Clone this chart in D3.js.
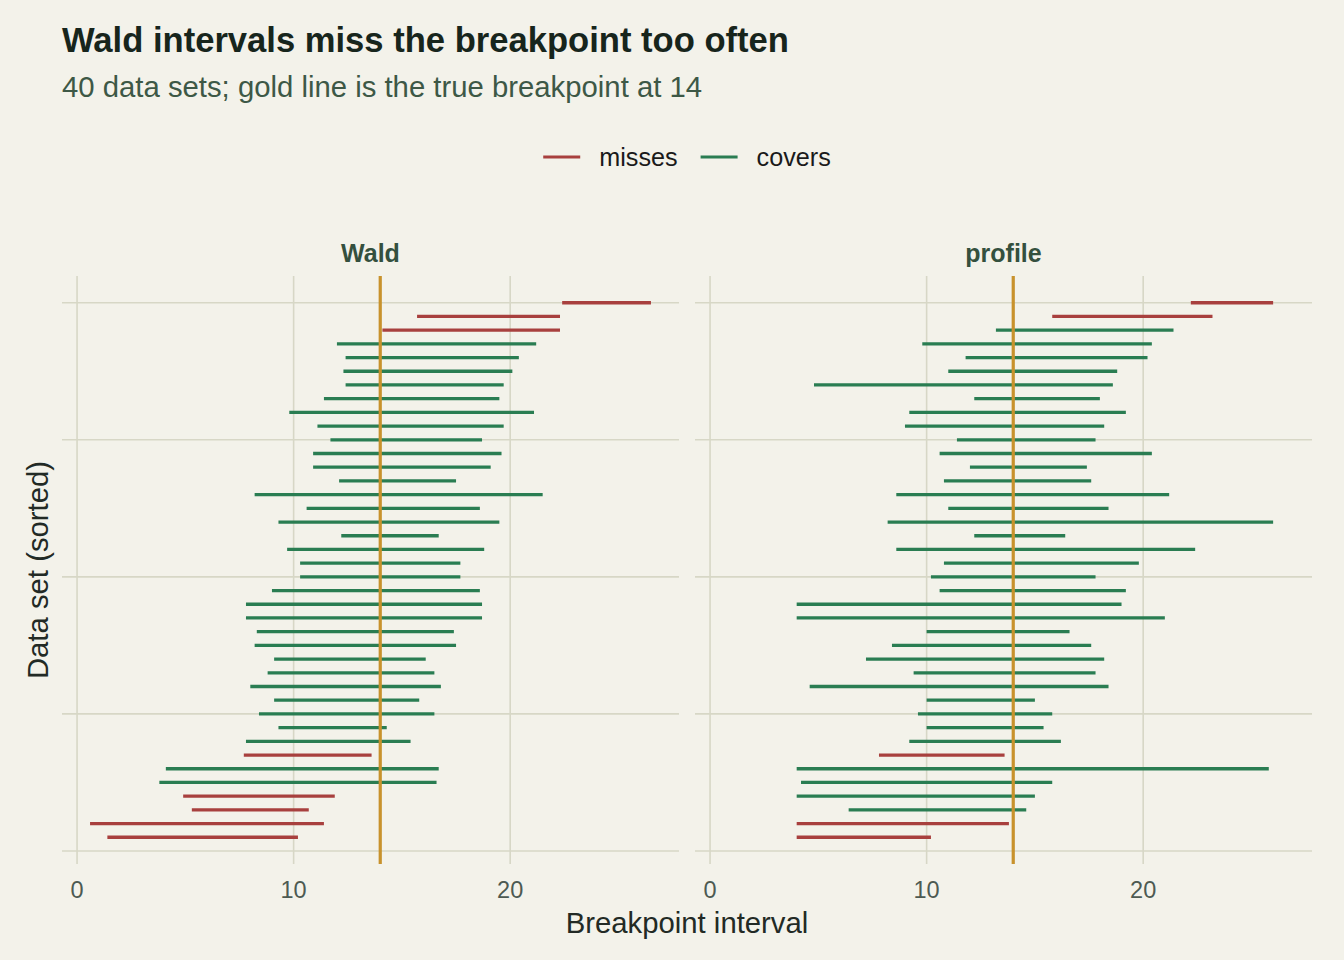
<!DOCTYPE html>
<html>
<head>
<meta charset="utf-8">
<script src="https://cdn.jsdelivr.net/npm/d3@7"></script>
<style>
  body { margin: 0; background: #f3f2ea; }
  svg { display: block; font-family: "Liberation Sans", Arial, sans-serif; }
</style>
</head>
<body>
<script>
var truth = 14;
var methods = ["Wald", "profile"];
var rows = d3.range(1, 41);

var waldLower = [1.4, 0.6, 5.3, 4.9, 3.8, 4.1, 7.7, 7.8, 9.3, 8.4,
                 9.1, 8.0, 8.8, 9.1, 8.2, 8.3, 7.8, 7.8, 9.0, 10.3,
                 10.3, 9.7, 12.2, 9.3, 10.6, 8.2, 12.1, 10.9, 10.9, 11.7,
                 11.1, 9.8, 11.4, 12.4, 12.3, 12.4, 12.0, 14.1, 15.7, 22.4];
var waldUpper = [10.2, 11.4, 10.7, 11.9, 16.6, 16.7, 13.6, 15.4, 14.3, 16.5,
                 15.8, 16.8, 16.5, 16.1, 17.5, 17.4, 18.7, 18.7, 18.6, 17.7,
                 17.7, 18.8, 16.7, 19.5, 18.6, 21.5, 17.5, 19.1, 19.6, 18.7,
                 19.7, 21.1, 19.5, 19.7, 20.1, 20.4, 21.2, 22.3, 22.3, 26.5];
var profileLower = [4.0, 4.0, 6.4, 4.0, 4.2, 4.0, 7.8, 9.2, 10.0, 9.6,
                    10.0, 4.6, 9.4, 7.2, 8.4, 10.0, 4.0, 4.0, 10.6, 10.2,
                    10.8, 8.6, 12.2, 8.2, 11.0, 8.6, 10.8, 12.0, 10.6, 11.4,
                    9.0, 9.2, 12.2, 4.8, 11.0, 11.8, 9.8, 13.2, 15.8, 22.2];
var profileUpper = [10.2, 13.8, 14.6, 15.0, 15.8, 25.8, 13.6, 16.2, 15.4, 15.8,
                    15.0, 18.4, 17.8, 18.2, 17.6, 16.6, 21.0, 19.0, 19.2, 17.8,
                    19.8, 22.4, 16.4, 26.0, 18.4, 21.2, 17.6, 17.4, 20.4, 17.8,
                    18.2, 19.2, 18.0, 18.6, 18.8, 20.2, 20.4, 21.4, 23.2, 26.0];
var xTicks = [0, 10, 20];
var yTicks = [0, 10, 20, 30, 40];

var statusColor = { misses: "#a8403e", covers: "#2a7d52" };

var intervals = [];
rows.forEach(function (r, i) {
    intervals.push({ method: "Wald", row: r, lo: waldLower[i], hi: waldUpper[i] });
    intervals.push({ method: "profile", row: r, lo: profileLower[i], hi: profileUpper[i] });
});
intervals.forEach(function (d) {
    d.status = (d.lo <= truth && d.hi >= truth) ? "covers" : "misses";
});

var width = 1344, height = 960;
var panelTop = 276, panelBottom = 864, panelW = 617;
var panelLeft = { Wald: 62, profile: 695 };

var svg = d3.select("body").append("svg")
    .attr("width", width)
    .attr("height", height);

svg.append("rect").attr("width", width).attr("height", height).attr("fill", "#f3f2ea");

// ggplot-style 5% expansion on both axes
var xMin = d3.min(intervals, d => d.lo), xMax = d3.max(intervals, d => d.hi);
var xPad = (xMax - xMin) * 0.05;
var x = d3.scaleLinear().domain([xMin - xPad, xMax + xPad]).range([0, panelW]);
var yPad = (40 - 1) * 0.05;
var y = d3.scaleLinear().domain([1 - yPad, 40 + yPad]).range([panelBottom, panelTop]);

methods.forEach(function (m) {
    var g = svg.append("g").attr("transform", "translate(" + panelLeft[m] + ",0)");

    g.selectAll(".hgrid").data(yTicks).enter().append("line")
        .attr("x1", 0).attr("x2", panelW)
        .attr("y1", d => y(d)).attr("y2", d => y(d))
        .attr("stroke", "#d7d7c6").attr("stroke-width", 1.6);

    g.selectAll(".vgrid").data(xTicks).enter().append("line")
        .attr("x1", d => x(d)).attr("x2", d => x(d))
        .attr("y1", panelTop).attr("y2", panelBottom)
        .attr("stroke", "#d7d7c6").attr("stroke-width", 1.6);

    g.selectAll(".seg").data(intervals.filter(d => d.method == m)).enter().append("line")
        .attr("x1", d => x(d.lo)).attr("x2", d => x(d.hi))
        .attr("y1", d => y(d.row)).attr("y2", d => y(d.row))
        .attr("stroke", d => statusColor[d.status])
        .attr("stroke-width", 3.3);

    g.append("line")
        .attr("x1", x(truth)).attr("x2", x(truth))
        .attr("y1", panelTop).attr("y2", panelBottom)
        .attr("stroke", "#c8922c").attr("stroke-width", 3.2);

    g.selectAll(".tick").data(xTicks).enter().append("text")
        .attr("x", d => x(d)).attr("y", 898)
        .attr("text-anchor", "middle")
        .attr("font-size", 23.5)
        .attr("fill", "#4d5a52")
        .text(d => d);

    g.append("text")
        .attr("x", panelW / 2).attr("y", 262)
        .attr("text-anchor", "middle")
        .attr("font-size", 25)
        .attr("font-weight", "bold")
        .attr("fill", "#34503e")
        .text(m);
});

svg.append("text")
    .attr("x", 62).attr("y", 52)
    .attr("font-size", 34.6).attr("font-weight", "bold")
    .attr("fill", "#17251c")
    .text("Wald intervals miss the breakpoint too often");

svg.append("text")
    .attr("x", 62).attr("y", 97)
    .attr("font-size", 29.3)
    .attr("fill", "#3d5846")
    .text("40 data sets; gold line is the true breakpoint at 14");

svg.append("text")
    .attr("x", (panelLeft.Wald + panelLeft.profile + panelW) / 2).attr("y", 933)
    .attr("text-anchor", "middle")
    .attr("font-size", 29.3)
    .attr("fill", "#222a25")
    .text("Breakpoint interval");

svg.append("text")
    .attr("transform", "translate(48," + (panelTop + panelBottom) / 2 + ") rotate(-90)")
    .attr("text-anchor", "middle")
    .attr("font-size", 29.3)
    .attr("fill", "#222a25")
    .text("Data set (sorted)");

// legend, centred over the panels
var legend = svg.append("g");
var items = legend.selectAll("g").data(["misses", "covers"]).enter().append("g");
items.append("line")
    .attr("x1", 0).attr("x2", 37).attr("y1", 157).attr("y2", 157)
    .attr("stroke", d => statusColor[d]).attr("stroke-width", 3.2);
items.append("text")
    .attr("x", 56).attr("y", 166)
    .attr("font-size", 25.2)
    .attr("fill", "#1a1a1a")
    .text(d => d);
var pos = 0;
items.each(function () {
    var w = 56 + d3.select(this).select("text").node().getComputedTextLength();
    d3.select(this).attr("transform", "translate(" + pos + ",0)");
    pos += w + 23;
});
pos -= 23;
legend.attr("transform", "translate(" + ((panelLeft.Wald + panelLeft.profile + panelW) / 2 - pos / 2) + ",0)");
</script>
</body>
</html>
